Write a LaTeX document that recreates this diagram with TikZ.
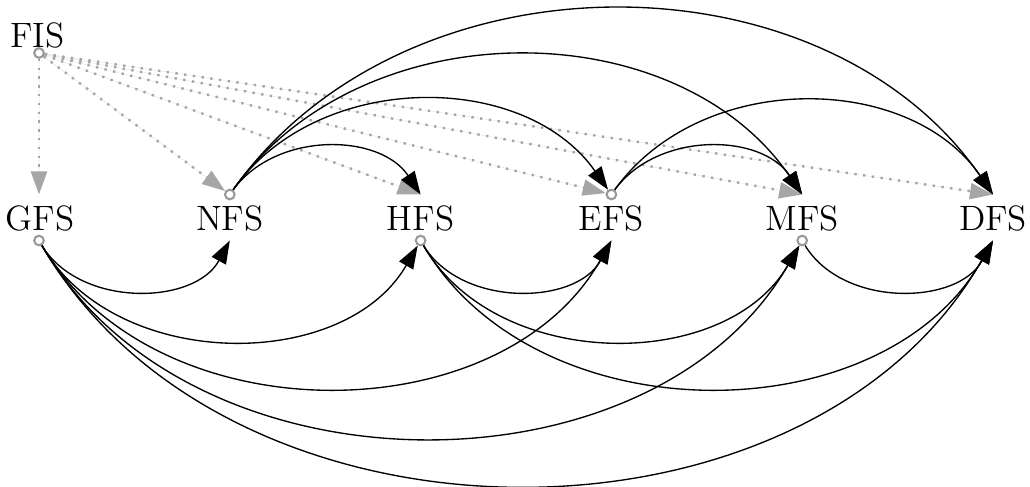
\documentclass[tikz,border=0pt]{standalone}
\usetikzlibrary{arrows.meta}
\begin{document}
\begin{tikzpicture}[x=0.3125pt,y=-0.3125pt,
  lbl/.style={inner sep=0pt,anchor=base,font=\fontsize{11}{13}\selectfont},
  port/.style={circle,draw=black!40,fill=white,line width=0.65pt,inner sep=0pt,minimum size=3pt},
  arr/.style={-{Triangle[length=7.2pt,width=5pt]},line width=0.42pt},
  fisedge/.style={arr,draw=black!35,fill=black!35,line width=0.75pt,dash pattern=on 0.75pt off 2pt},
  upedge/.style={arr,bend left=55},
  lowedge/.style={arr,bend right=60}]
\useasboundingbox (0,0) rectangle (1030,486);
% labels
\node[lbl] (FIS) at (37.5,47) {FIS};
\node[lbl] (GFS) at (40,230) {GFS};
\node[lbl] (NFS) at (229.8,230) {NFS};
\node[lbl] (HFS) at (420.6,230) {HFS};
\node[lbl] (EFS) at (611.4,230) {EFS};
\node[lbl] (MFS) at (802.2,230) {MFS};
\node[lbl] (DFS) at (993,230) {DFS};
% ports
\node[port] (fisP) at (39,53) {};
\node[port] (gfsS) at (39,240.5) {};
\node[port] (nfsN) at (229.8,194.5) {};
\node[port] (hfsS) at (420.6,240.5) {};
\node[port] (efsN) at (611.4,194.5) {};
\node[port] (mfsS) at (802.2,240.5) {};
\coordinate (gfsN) at (39,194.5);
\coordinate (hfsN) at (420.6,194.5);
\coordinate (mfsN) at (802.2,194.5);
\coordinate (dfsN) at (993,194.5);
\coordinate (nfsS) at (229.8,240.5);
\coordinate (efsS) at (611.4,240.5);
\coordinate (dfsS) at (993,240.5);
% FIS dotted edges
\foreach \t in {gfsN,nfsN,hfsN,efsN,mfsN,dfsN}
  \draw[fisedge] (fisP) -- (\t);
% top edges
\foreach \s/\t in {nfsN/hfsN,nfsN/efsN,nfsN/mfsN,nfsN/dfsN,efsN/mfsN,efsN/dfsN}
  \draw[upedge] (\s) to (\t);
% bottom edges
\foreach \s/\t in {gfsS/nfsS,gfsS/hfsS,gfsS/efsS,gfsS/mfsS,gfsS/dfsS,hfsS/efsS,hfsS/mfsS,hfsS/dfsS,mfsS/dfsS}
  \draw[lowedge] (\s) to (\t);
\end{tikzpicture}
\end{document}
